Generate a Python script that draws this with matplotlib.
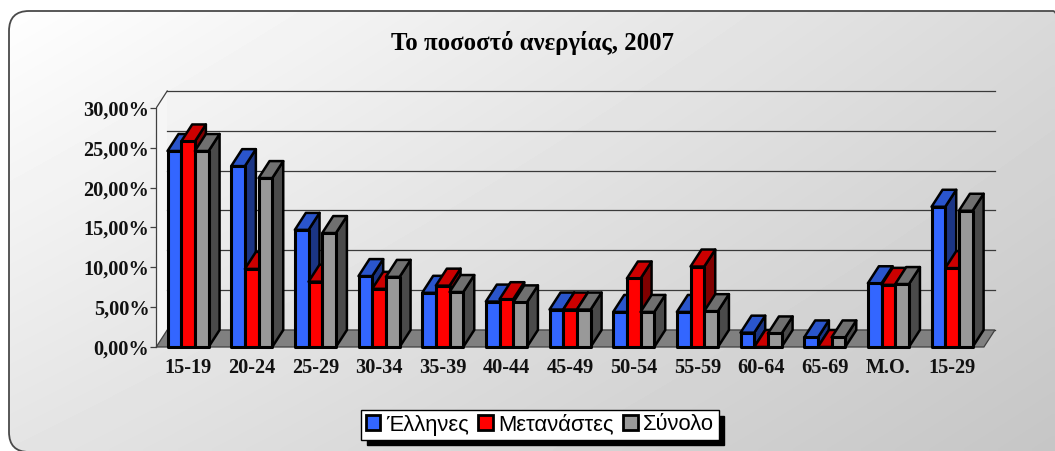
import matplotlib
matplotlib.use("Agg")
import matplotlib.pyplot as plt
import numpy as np
from matplotlib.patches import Polygon, Patch, FancyBboxPatch
from matplotlib.transforms import Affine2D

# Unemployment rate by age group, 2007
categories = ["15-19", "20-24", "25-29", "30-34", "35-39", "40-44", "45-49",
              "50-54", "55-59", "60-64", "65-69", "M.O.", "15-29"]
ellines = [24.6, 22.7, 14.7, 8.9, 6.8, 5.7, 4.7, 4.4, 4.4, 1.8, 1.2, 8.0, 17.6]
metanastes = [25.8, 9.8, 8.2, 7.3, 7.7, 6.0, 4.7, 8.6, 10.1, 0.0, 0.0, 7.8, 9.9]
synolo = [24.6, 21.2, 14.3, 8.8, 6.9, 5.6, 4.7, 4.4, 4.5, 1.7, 1.2, 7.9, 17.1]
series_names = ["Έλληνες", "Μετανάστες", "Σύνολο"]
yticks = [0, 5, 10, 15, 20, 25, 30]

# (front, top, side) shades for each series
shades = [
    ("#3366ff", "#2a55cc", "#1b3584"),
    ("#ff0000", "#cc0000", "#800000"),
    ("#999999", "#707070", "#4a4a4a"),
]

W, H = 1055, 451
fig = plt.figure(figsize=(W / 100, H / 100), dpi=100)
fig.patch.set_facecolor("white")

# background panel: gradient clipped to a rounded frame, in figure pixels
px = Affine2D().scale(1 / W, 1 / H) + fig.transFigure
frame = FancyBboxPatch((9, -1), 1073 - 9, (H - 11) + 1,
                       boxstyle="round,pad=0,rounding_size=20",
                       facecolor="none", edgecolor="#4a4a4a", linewidth=1.3,
                       transform=px, zorder=-4)
fig.add_artist(frame)
bg = fig.add_axes([0, 0, 1, 1], zorder=-5)
bg.axis("off")
gx, gy = np.meshgrid(np.linspace(0, 1, 200), np.linspace(0, 1, 100))
c00, c10, c01, c11 = 1.0, 0.855, 0.895, 0.775
grad = (c00 * (1 - gx) * (1 - gy) + c10 * gx * (1 - gy)
        + c01 * (1 - gx) * gy + c11 * gx * gy)
img = bg.imshow(grad, cmap="gray", vmin=0, vmax=1, extent=(0, 1, 0, 1),
                origin="upper", aspect="auto", interpolation="bilinear")
bg.set_xlim(0, 1)
bg.set_ylim(0, 1)
img.set_clip_path(frame)

# main plot area in pixel-matched data units
px_unit = 63.67
px_pct = 7.967
x0_px, y0_px = 156.2, 347
xmax, ymax = 12.95, 33.5
ax = fig.add_axes([x0_px / W, (H - y0_px) / H,
                   (xmax + 0.5) * px_unit / W, ymax * px_pct / H])
ax.set_xlim(-0.5, xmax)
ax.set_ylim(0, ymax)
ax.patch.set_alpha(0)

DX = 11 / px_unit
DY = 17 / px_pct
right = len(categories) - 0.5
wall_c = "#404040"

# left wall
ax.add_patch(Polygon([(-0.5, 0), (-0.5 + DX, DY), (-0.5 + DX, 30 + DY), (-0.5, 30)],
                     closed=True, facecolor="#f6f6f6", edgecolor="none", zorder=1))
ax.plot([-0.5, -0.5 + DX], [30, 30 + DY], color=wall_c, linewidth=0.9, zorder=2)
# back wall gridlines
for v in yticks:
    ax.plot([-0.5 + DX, right + DX], [v + DY, v + DY], color="#3a3a3a",
            linewidth=0.9, zorder=2)
# floor
ax.add_patch(Polygon([(-0.5, 0), (right, 0), (right + DX, DY), (-0.5 + DX, DY)],
                     closed=True, facecolor="#808080", edgecolor=wall_c,
                     linewidth=0.9, zorder=3))

w = 0.215
series = [ellines, metanastes, synolo]
z = 10
for i in range(len(categories)):
    for s, vals in enumerate(series):
        h = vals[i]
        front, top, side = shades[s]
        xc = i + (s - 1) * w
        xl, xr = xc - w / 2, xc + w / 2
        ax.add_patch(Polygon([(xr, 0), (xr + DX, DY), (xr + DX, h + DY), (xr, h)],
                             closed=True, facecolor=side, edgecolor="black",
                             linewidth=1.8, joinstyle="round", zorder=z))
        ax.add_patch(Polygon([(xl, h), (xr, h), (xr + DX, h + DY), (xl + DX, h + DY)],
                             closed=True, facecolor=top, edgecolor="black",
                             linewidth=1.8, joinstyle="round", zorder=z + 1))
        bars = ax.bar(xc, h, w, color=front, edgecolor="black", linewidth=2.2,
                      zorder=z + 2)
        for b in bars:
            b.set_joinstyle("round")
        z += 3

for p in ax.patches:
    p.set_clip_on(False)

# axes styling
for side_name in ["top", "right", "bottom"]:
    ax.spines[side_name].set_visible(False)
ax.spines["left"].set_bounds(0, 30)
ax.spines["left"].set_color(wall_c)
ax.spines["left"].set_linewidth(0.9)
ax.spines["left"].set_zorder(4)

tick_font = dict(family="Liberation Serif", weight="bold", size=14.6)
ax.set_yticks(yticks)
ax.set_yticklabels([f"{v:.2f}%".replace(".", ",") for v in yticks], **tick_font)
ax.tick_params(axis="y", direction="out", length=4, width=0.9, color=wall_c,
               pad=1, labelcolor="#111111")
ax.set_xticks(range(len(categories)))
ax.set_xticklabels(categories, **tick_font)
ax.tick_params(axis="x", length=0, pad=8, labelcolor="#111111")

fig.text(0.505, 1 - 43 / H, "Το ποσοστό ανεργίας, 2007", ha="center",
         va="center", family="Liberation Serif", weight="bold", size=17.8)

handles = [Patch(facecolor=shades[k][0], edgecolor="black", linewidth=2)
           for k in range(3)]
fig.legend(handles, series_names, loc="center",
           bbox_to_anchor=(540 / W, 1 - 425 / H), ncol=3,
           prop=dict(family="Liberation Sans", size=15.8),
           frameon=True, fancybox=False, edgecolor="black", framealpha=1,
           handlelength=0.65, handleheight=0.65, handletextpad=0.25,
           columnspacing=0.45, borderpad=0.2, borderaxespad=0,
           shadow={"color": "black", "alpha": 1, "ox": 4, "oy": -4})

fig.savefig("out.png", dpi=100)
